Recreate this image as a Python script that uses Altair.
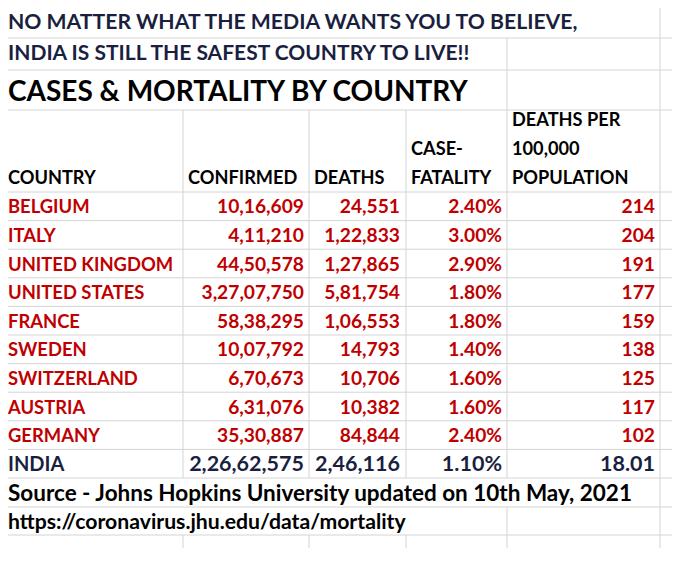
import altair as alt
import pandas as pd

# ---------------- data ----------------
countries = ["BELGIUM", "ITALY", "UNITED KINGDOM", "UNITED STATES", "FRANCE",
             "SWEDEN", "SWITZERLAND", "AUSTRIA", "GERMANY", "INDIA"]
confirmed = [1016609, 411210, 4450578, 32707750, 5838295,
             1007792, 670673, 631076, 3530887, 22662575]
deaths = [24551, 122833, 127865, 581754, 106553,
          14793, 10706, 10382, 84844, 246116]
case_fatality = [2.40, 3.00, 2.90, 1.80, 1.80, 1.40, 1.60, 1.60, 2.40, 1.10]
deaths_per_100k = [214, 204, 191, 177, 159, 138, 125, 117, 102, 18.01]

title_lines = ["NO MATTER WHAT THE MEDIA WANTS YOU TO BELIEVE,",
               "INDIA IS STILL THE SAFEST COUNTRY TO LIVE!!"]
heading = "CASES & MORTALITY BY COUNTRY"
headers = [["COUNTRY"], ["CONFIRMED"], ["DEATHS"], ["CASE-", "FATALITY"],
           ["DEATHS PER", "100,000", "POPULATION"]]
source_line = "Source - Johns Hopkins University updated on 10th May, 2021"
url_line = "https://coronavirus.jhu.edu/data/mortality"


def indian(n):
    s = str(int(n))
    if len(s) <= 3:
        return s
    last3, rest = s[-3:], s[:-3]
    groups = []
    while len(rest) > 2:
        groups.insert(0, rest[-2:])
        rest = rest[:-2]
    if rest:
        groups.insert(0, rest)
    return ",".join(groups + [last3])


def per100k(v):
    return str(int(v)) if float(v).is_integer() else f"{v:.2f}"


# ---------------- layout (image pixel space) ----------------
OFF = 8
W, H = 680 - 2 * OFF, 570 - 2 * OFF
col_lines = [3, 183, 309, 406, 507, 660]
row_lines = [7, 38, 70, 110, 192] + [192 + 28.6 * k for k in range(1, 11)] + [507, 535]
data_top, row_h = 192, 28.6
right_anchor = [304, 400, 502, 655]
left_pad = 5

NAVY = "#1b1f3f"
RED = "#c00000"
BLACK = "#000000"
GRID = "#d4d4d4"

# gridlines
hlines = pd.DataFrame({"x": [0] * len(row_lines), "x2": [680] * len(row_lines), "y": row_lines})
segs = []
all_cols = col_lines
spans = [
    (0, 7, all_cols),
    (7, 38, [3, 660]),
    (38, 70, [3, 507, 660]),
    (70, 110, [3, 507, 660]),
    (110, 478, all_cols),
    (478, 507, [3, 660]),
    (507, 535, [3, 507, 660]),
    (535, 548, all_cols),
]
for y0, y1, cols in spans:
    for c in cols:
        segs.append({"x": c, "y": y0, "y2": y1})
vlines = pd.DataFrame(segs)

# text
left_bold, right_bold = [], []
left_bold.append({"x": 8, "y": 23, "t": title_lines[0], "c": NAVY, "s": 21.2})
left_bold.append({"x": 8, "y": 54, "t": title_lines[1], "c": NAVY, "s": 21})
left_bold.append({"x": 8, "y": 92.5, "t": heading, "c": BLACK, "s": 28})
header_y = [179, 150, 121]
for i, lines in enumerate(headers):
    x = col_lines[i] + left_pad if i > 0 else 8
    for j, ln in enumerate(reversed(lines)):
        left_bold.append({"x": x, "y": header_y[j], "t": ln, "c": BLACK, "s": 18.2})
for k, name in enumerate(countries):
    y = data_top + row_h * (k + 0.5) + 1
    vals = [indian(confirmed[k]), indian(deaths[k]), f"{case_fatality[k]:.2f}%",
            per100k(deaths_per_100k[k])]
    india = name == "INDIA"
    col = NAVY if india else RED
    sz = 20 if india else 18.4
    nsz = 21.5 if india else 19.2
    left_bold.append({"x": 8, "y": y, "t": name, "c": col, "s": sz})
    for a, v in zip(right_anchor, vals):
        right_bold.append({"x": a, "y": y, "t": v, "c": col, "s": nsz})
left_bold.append({"x": 8, "y": 494, "t": source_line, "c": BLACK, "s": 22.5})
left_bold.append({"x": 8, "y": 523, "t": url_line, "c": BLACK, "s": 21.2})

X = alt.Scale(domain=[OFF, 680 - OFF], nice=False, zero=False)
Y = alt.Scale(domain=[OFF, 570 - OFF], nice=False, zero=False, reverse=True)
FONT = "Lato"

h_layer = alt.Chart(hlines).mark_rule(color=GRID, strokeWidth=1).encode(
    x=alt.X("x:Q", scale=X, axis=None), x2="x2:Q",
    y=alt.Y("y:Q", scale=Y, axis=None))
v_layer = alt.Chart(vlines).mark_rule(color=GRID, strokeWidth=1).encode(
    x=alt.X("x:Q", scale=X, axis=None),
    y=alt.Y("y:Q", scale=Y, axis=None), y2="y2:Q")


def text_layer(rows, align, weight):
    return alt.Chart(pd.DataFrame(rows)).mark_text(
        align=align, baseline="middle", font=FONT, fontWeight=weight).encode(
        x=alt.X("x:Q", scale=X, axis=None),
        y=alt.Y("y:Q", scale=Y, axis=None),
        text="t:N",
        color=alt.Color("c:N", scale=None),
        size=alt.Size("s:Q", scale=None))


chart = alt.layer(
    h_layer, v_layer,
    text_layer(left_bold, "left", "bold"),
    text_layer(right_bold, "right", "bold"),
).properties(
    width=W, height=H, padding=0, autosize=alt.AutoSizeParams(type="none"),
    background="white"
).configure_view(stroke=None)

chart.save("out.html", embed_options={"renderer": "svg", "actions": False})
